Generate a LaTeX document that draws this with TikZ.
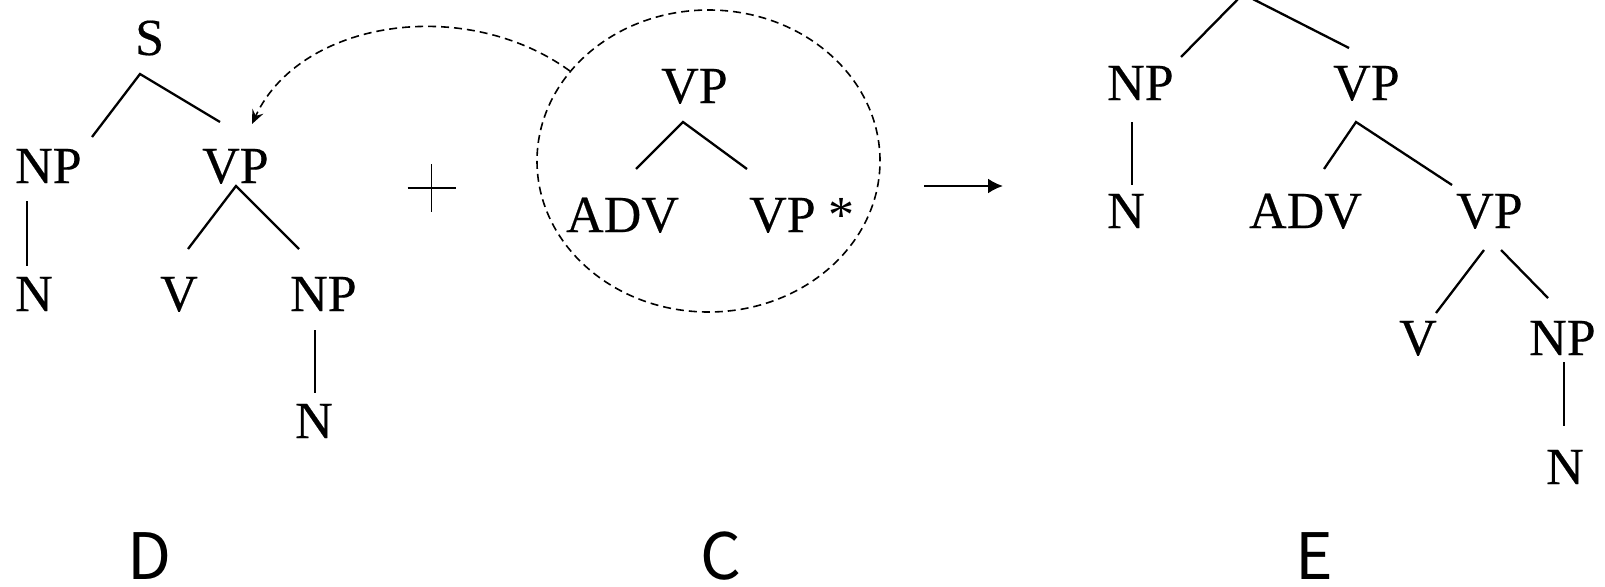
\documentclass[tikz,border=0pt]{standalone}
\usepackage{fontspec}
\setmainfont{Liberation Serif}
\newfontfamily\catfont{Liberation Serif}[FakeBold=0.35]
\newfontfamily\plainfont{Liberation Serif}
\newfontfamily\labfont{Noto Sans CJK SC}
\usetikzlibrary{arrows.meta,shapes.geometric}
\begin{document}
\begin{tikzpicture}[x=1pt,y=-1pt,
  cat/.style={anchor=base west,inner sep=0pt,font=\catfont\fontsize{52}{60}\selectfont},
  edge/.style={line width=2.3pt},
  lab/.style={anchor=base,inner sep=0pt,font=\labfont\fontsize{64}{70}\selectfont},
  dsh/.style={line width=1.6pt,dash pattern=on 8pt off 5pt}]
\useasboundingbox (0,0) rectangle (1605,586);
\clip (0,0) rectangle (1605,586);

% ---- tree D ----
\node[cat] (S)   at (135,55)  {S};
\node[cat] (NPa) at (15,183)  {NP};
\node[cat] (VPa) at (202,183) {VP};
\node[cat] (Na)  at (15,311)  {N};
\node[cat] (Va)  at (160,311) {V};
\node[cat] (NPb) at (290,311) {NP};
\node[cat] (Nb)  at (295,438) {N};

\draw[edge] ([shift={(77,-46)}]NPa.base west) -- ([shift={(5,19)}]S.base west) -- ([shift={(18,-61)}]VPa.base west);
\draw[edge] ([shift={(28,-62)}]Va.base west) -- ([shift={(34,3)}]VPa.base west) -- ([shift={(9,-62)}]NPb.base west);
\draw[edge] ([shift={(12,18)}]NPa.base west) -- ([shift={(12,-45)}]Na.base west);
\draw[edge] ([shift={(25,19)}]NPb.base west) -- ([shift={(20,-45)}]Nb.base west);

% ---- plus ----
\coordinate (plus) at (431.5,188);
\draw[line width=1.9pt] ([shift={(-24,0)}]plus) -- ([shift={(24,0)}]plus);
\draw[line width=1.9pt] ([shift={(0,-24)}]plus) -- ([shift={(0,24)}]plus);

% ---- tree C ----
\node[ellipse,draw,dsh,inner sep=0pt,minimum width=343pt,minimum height=302pt] (circ) at (708.5,161) {};
\node[cat] (VPc) at (661,103) {VP};
\node[cat] (ADVc) at (566,232) {ADV};
\node[cat] (VPs) at (749,232) {VP {\plainfont *}};
\draw[edge] ([shift={(70,-63)}]ADVc.base west) -- ([shift={(22,19)}]VPc.base west) -- ([shift={(-2,-63)}]VPs.base west);

% dashed adjoining arrow
\draw[dsh,-{Stealth[length=14pt,width=12pt,inset=5pt]}] (circ.147.6) .. controls (465,-5) and (300,20) .. ([shift={(50,-59)}]VPa.base west);

% ---- arrow ----
\coordinate (ar1) at (924,186);
\coordinate (ar2) at (1003,186);
\draw[edge,-{Latex[length=15pt,width=15pt]}] (ar1) -- (ar2);

% ---- tree E ----
\coordinate (eroot) at (1243,-6);
\node[cat] (NPe)  at (1107,100) {NP};
\node[cat] (VPe)  at (1333,100) {VP};
\node[cat] (Ne)   at (1107,228) {N};
\node[cat] (ADVe) at (1249,228) {ADV};
\node[cat] (VPf)  at (1456,228) {VP};
\node[cat] (Ve)   at (1399,355) {V};
\node[cat] (NPf)  at (1529,355) {NP};
\node[cat] (Nf)   at (1546,484) {N};

\draw[edge] ([shift={(74,-43)}]NPe.base west) -- (eroot) -- ([shift={(16,-52)}]VPe.base west);
\draw[edge] ([shift={(25,22)}]NPe.base west) -- ([shift={(25,-43)}]Ne.base west);
\draw[edge] ([shift={(75,-59)}]ADVe.base west) -- ([shift={(23,22)}]VPe.base west) -- ([shift={(-4,-43)}]VPf.base west);
\draw[edge] ([shift={(28,22)}]VPf.base west) -- ([shift={(37,-42)}]Ve.base west);
\draw[edge] ([shift={(45,22)}]VPf.base west) -- ([shift={(19,-57)}]NPf.base west);
\draw[edge] ([shift={(35,7)}]NPf.base west) -- ([shift={(18,-58)}]Nf.base west);

% ---- labels ----
\node[lab] (labD) at (150,579) {D};
\node[lab] (labC) at (721,579) {C};
\node[lab] (labE) at (1314,579) {E};
\end{tikzpicture}
\end{document}
